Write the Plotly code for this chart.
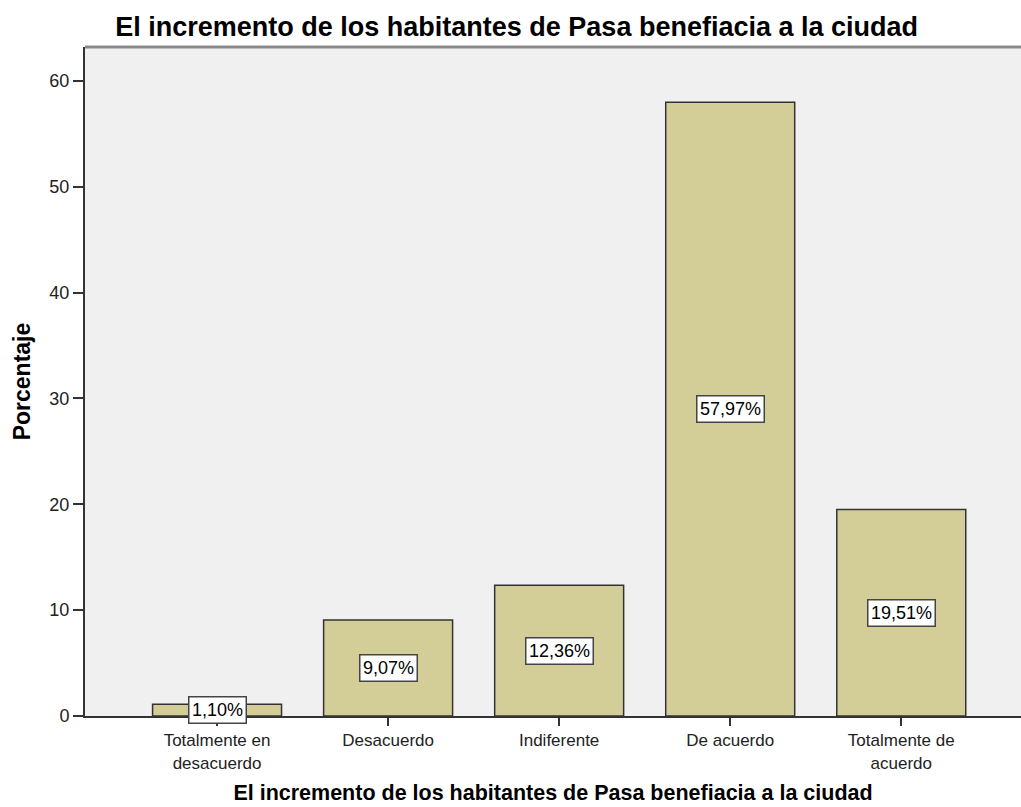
import plotly.graph_objects as go

categories = ["Totalmente en<br>desacuerdo", "Desacuerdo", "Indiferente", "De acuerdo", "Totalmente de<br>acuerdo"]
values = [1.10, 9.07, 12.36, 57.97, 19.51]
labels = ["1,10%", "9,07%", "12,36%", "57,97%", "19,51%"]
y_ticks = [0, 10, 20, 30, 40, 50, 60]

title = "El incremento de los habitantes de Pasa benefiacia a la ciudad"
x_title = "El incremento de los habitantes de Pasa benefiacia a la ciudad"
y_title = "Porcentaje"

FONT = "Arial, Liberation Sans, sans-serif"
x_idx = list(range(len(categories)))

fig = go.Figure()
fig.add_trace(go.Bar(
    x=x_idx, y=values, width=0.754,
    marker=dict(color="#D3CE97", line=dict(color="#333333", width=1.5)),
    hoverinfo="skip",
))

for i, (v, lab) in enumerate(zip(values, labels)):
    fig.add_annotation(
        x=i, y=v / 2, text=lab, showarrow=False,
        font=dict(family=FONT, size=18, color="#000"),
        bgcolor="white", bordercolor="#444444", borderwidth=1.5, borderpad=2.5,
    )

fig.update_layout(
    width=1021, height=807,
    margin=dict(l=85, r=0, t=47, b=91),
    paper_bgcolor="white", plot_bgcolor="#F0F0F0",
    showlegend=False,
    font=dict(family=FONT, size=17, color="#000"),
    title=dict(text="<b>" + title + "</b>", x=0.506, xanchor="center", y=0.967, yanchor="middle",
               font=dict(family=FONT, size=27, color="#000")),
    xaxis=dict(
        range=[-0.772, 4.70], tickmode="array", tickvals=x_idx, ticktext=categories,
        ticks="outside", ticklen=8, tickwidth=1.5, tickcolor="#333", showgrid=False, zeroline=False,
        showline=True, linecolor="#333", linewidth=2,
        tickfont=dict(family=FONT, size=17, color="#222"),
        title=dict(text="<b>" + x_title + "</b>", font=dict(family=FONT, size=21.5), standoff=13),
    ),
    yaxis=dict(
        range=[0, 63.2], tickmode="array", tickvals=y_ticks,
        ticks="outside", ticklen=10, tickwidth=1.5, tickcolor="#333", showgrid=False, zeroline=False,
        showline=True, linecolor="#333", linewidth=2,
        tickfont=dict(family=FONT, size=18, color="#222"),
        title=dict(text="<b>" + y_title + "</b>", font=dict(family=FONT, size=23), standoff=12),
    ),
)
fig.add_shape(type="line", xref="paper", yref="paper", x0=0, x1=1, y0=1, y1=1,
              line=dict(color="#8A8A8A", width=3))

fig.write_html("out.html", config={"displayModeBar": False},
               post_script="document.body.style.margin='0';document.body.style.overflow='hidden';")
